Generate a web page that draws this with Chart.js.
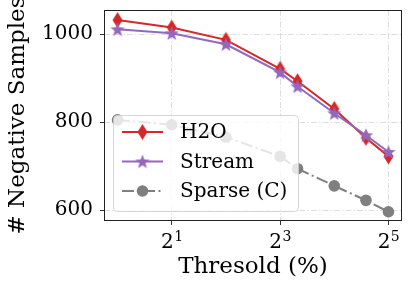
<!DOCTYPE html>
<html>
<head>
<meta charset="utf-8">
<script src="https://cdn.jsdelivr.net/npm/chart.js@4/dist/chart.umd.min.js"></script>
<style>
html,body{margin:0;padding:0;background:#fff;}
#wrap{width:412px;height:289px;position:relative;}
</style>
</head>
<body>
<div id="wrap"><canvas id="c" width="412" height="289"></canvas></div>
<script>
const thresholds = [1, 2, 4, 8, 10, 16, 24, 32];
const h2oValues = [1032, 1015, 987, 921, 893, 830, 764, 722];
const streamValues = [1011, 1002, 977, 913, 881, 820, 770, 732];
const sparseValues = [805, 794, 766, 722, 694, 655, 622, 596];
const seriesLabels = ['H2O', 'Stream', 'Sparse (C)'];
const xTickValues = [2, 8, 32];
const xTickBase = '2';
const xTickExponents = ['1', '3', '5'];
const yTickValues = [600, 800, 1000];

const RED = '#d62728', PURPLE = '#9467bd', GRAY = '#7f7f7f';
const FONT = "'DejaVu Serif', serif";

function diamondCanvas(color) {
  const w = 11, h = 17;
  const c = document.createElement('canvas');
  c.width = w; c.height = h;
  const g = c.getContext('2d');
  g.fillStyle = color;
  g.beginPath();
  g.moveTo(w / 2, 0.5); g.lineTo(w - 0.5, h / 2); g.lineTo(w / 2, h - 0.5); g.lineTo(0.5, h / 2);
  g.closePath(); g.fill();
  return c;
}
function starCanvas(color) {
  const s = 16;
  const c = document.createElement('canvas');
  c.width = s; c.height = s;
  const g = c.getContext('2d');
  g.fillStyle = color;
  g.beginPath();
  const cx = s / 2, cy = s / 2 + 0.6, R = 7.6, r = 3.1;
  for (let i = 0; i < 10; i++) {
    const a = -Math.PI / 2 + i * Math.PI / 5;
    const rr = i % 2 === 0 ? R : r;
    const x = cx + rr * Math.cos(a), y = cy + rr * Math.sin(a);
    if (i === 0) g.moveTo(x, y); else g.lineTo(x, y);
  }
  g.closePath(); g.fill();
  return c;
}
const diamondImg = diamondCanvas(RED);
const starImg = starCanvas(PURPLE);

function toPts(xs, ys) { return xs.map((x, i) => ({ x: x, y: ys[i] })); }

const framePlugin = {
  id: 'frameAndLegend',
  afterDatasetsDraw(chart) {
    const ctx = chart.ctx, a = chart.chartArea;
    ctx.save();
    ctx.strokeStyle = '#222';
    ctx.lineWidth = 1;
    ctx.setLineDash([]);
    ctx.strokeRect(Math.round(a.left) + 0.5, Math.round(a.top) + 0.5,
      Math.round(a.right - a.left) - 1, Math.round(a.bottom - a.top) - 1);
    const bx = a.left + 9, bw = 185, bh = 96;
    const by = a.bottom - 10 - bh;
    ctx.beginPath();
    if (ctx.roundRect) ctx.roundRect(bx + 0.5, by + 0.5, bw, bh, 4);
    else ctx.rect(bx + 0.5, by + 0.5, bw, bh);
    ctx.fillStyle = 'rgba(255,255,255,0.8)';
    ctx.fill();
    ctx.strokeStyle = 'rgba(204,204,204,0.8)';
    ctx.lineWidth = 1;
    ctx.stroke();
    const ds = chart.data.datasets;
    ctx.font = '20px ' + FONT;
    ctx.textBaseline = 'middle';
    ctx.textAlign = 'left';
    ds.forEach((d, i) => {
      const yy = by + 17 + i * 29.5;
      const x0 = bx + 9, x1 = bx + 50, xm = (x0 + x1) / 2;
      ctx.save();
      ctx.strokeStyle = d.borderColor;
      ctx.lineWidth = d.borderWidth;
      ctx.setLineDash(d.borderDash || []);
      ctx.beginPath(); ctx.moveTo(x0, yy); ctx.lineTo(x1, yy); ctx.stroke();
      ctx.restore();
      if (d.pointStyle instanceof HTMLCanvasElement) {
        const im = d.pointStyle;
        ctx.drawImage(im, xm - im.width / 2, yy - im.height / 2);
      } else {
        ctx.fillStyle = d.pointBackgroundColor;
        ctx.beginPath(); ctx.arc(xm, yy, d.pointRadius, 0, Math.PI * 2); ctx.fill();
      }
      ctx.fillStyle = '#000';
      ctx.fillText(d.label, bx + 67, yy + 1);
    });
    ctx.restore();
  },
  afterDraw(chart) {
    // x tick labels as base with superscript exponent
    const ctx = chart.ctx, sx = chart.scales.x, a = chart.chartArea;
    ctx.save();
    ctx.fillStyle = '#000';
    ctx.textBaseline = 'alphabetic';
    ctx.textAlign = 'left';
    xTickValues.forEach((v, i) => {
      const px = sx.getPixelForValue(v);
      ctx.font = '20px ' + FONT;
      const wb = ctx.measureText(xTickBase).width;
      ctx.font = '14px ' + FONT;
      const we = ctx.measureText(xTickExponents[i]).width;
      const x0 = px - (wb + we) / 2;
      const base = a.bottom + 27;
      ctx.font = '20px ' + FONT;
      ctx.fillText(xTickBase, x0, base);
      ctx.font = '14px ' + FONT;
      ctx.fillText(xTickExponents[i], x0 + wb + 0.5, base - 7.5);
    });
    ctx.restore();
  }
};

new Chart(document.getElementById('c'), {
  type: 'line',
  data: {
    datasets: [
      { label: seriesLabels[0], data: toPts(thresholds, h2oValues), borderColor: RED, backgroundColor: RED,
        pointBackgroundColor: RED, borderWidth: 2, pointStyle: diamondImg, pointRadius: 8, order: 3, fill: false },
      { label: seriesLabels[1], data: toPts(thresholds, streamValues), borderColor: PURPLE, backgroundColor: PURPLE,
        pointBackgroundColor: PURPLE, borderWidth: 2, pointStyle: starImg, pointRadius: 8, order: 2, fill: false },
      { label: seriesLabels[2], data: toPts(thresholds, sparseValues), borderColor: GRAY, backgroundColor: GRAY,
        pointBackgroundColor: GRAY, pointBorderColor: GRAY, borderWidth: 2, borderDash: [12, 3.5, 2, 3.5],
        pointStyle: 'circle', pointRadius: 5.8, pointBorderWidth: 0, order: 1, fill: false }
    ]
  },
  options: {
    responsive: false,
    animation: false,
    devicePixelRatio: 1,
    layout: { padding: { top: 9, right: 10, left: 0, bottom: 0 } },
    plugins: { legend: { display: false }, tooltip: { enabled: false } },
    scales: {
      x: {
        type: 'logarithmic',
        min: Math.pow(2, -0.25),
        max: Math.pow(2, 5.25),
        afterBuildTicks: s => { s.ticks = xTickValues.map(v => ({ value: v })); },
        afterFit: s => { s.height = 68; s.paddingLeft = 0; s.paddingRight = 0; },
        ticks: { display: false, autoSkip: false, maxRotation: 0 },
        grid: { color: '#dddddd', lineWidth: 1, tickLength: 4, tickColor: '#333', tickWidth: 1 },
        border: { display: false, dash: [6, 2, 1.5, 2] },
        title: { display: true, text: 'Thresold (%)', color: '#000', font: { family: FONT, size: 23 }, padding: { top: 0, bottom: 8 } }
      },
      y: {
        min: 575,
        max: 1055,
        afterBuildTicks: s => { s.ticks = yTickValues.map(v => ({ value: v })); },
        afterFit: s => { s.width = 104; s.paddingTop = 0; s.paddingBottom = 0; },
        ticks: { padding: 7, color: '#000', font: { family: FONT, size: 20 }, callback: v => String(v) },
        grid: { color: '#dddddd', lineWidth: 1, tickLength: 4, tickColor: '#333', tickWidth: 1 },
        border: { display: false, dash: [6, 2, 1.5, 2] },
        title: { display: true, text: '# Negative Samples', color: '#000', font: { family: FONT, size: 23 }, padding: { top: 4, bottom: 0 } }
      }
    }
  },
  plugins: [framePlugin]
});
</script>
</body>
</html>
